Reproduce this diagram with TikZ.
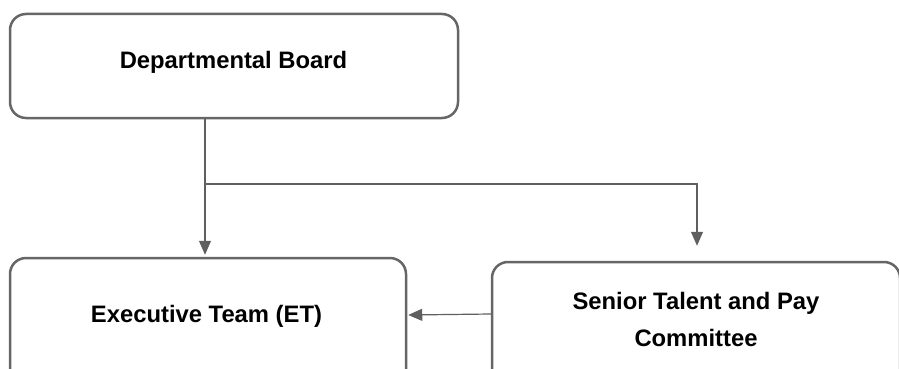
\documentclass[tikz,border=0pt]{standalone}
\usepackage{fontspec}
\setmainfont{Liberation Sans}
\usetikzlibrary{arrows.meta,calc}
\definecolor{boxgray}{HTML}{666666}
\definecolor{linegray}{HTML}{5F5F5F}
\begin{document}
\begin{tikzpicture}[x=1pt,y=-1pt,
  box/.style={draw=boxgray, line width=2.5pt, rounded corners=16pt, inner sep=0pt},
  lbl/.style={font=\bfseries\fontsize{23.8}{37}\selectfont, text=black, align=center, inner sep=0pt, anchor=base},
  conn/.style={draw=linegray, line width=1.2pt},
  arr/.style={conn, -{Triangle[length=14pt,width=12pt]}}]
\useasboundingbox (0,0) rectangle (899,369);
\clip (0,0) rectangle (899,369);
\node[box, minimum width=448pt, minimum height=104pt] (board) at (234,66) {};
\node[lbl] (boardt) at (233.5,69) {Departmental Board};
\node[box, minimum width=396pt, minimum height=140pt] (et) at (208,328) {};
\node[lbl] (ett) at (206.5,322) {Executive Team (ET)};
\node[box, minimum width=408pt, minimum height=140pt] (stpc) at (696,332) {};
\node[lbl] (stpct) at (696,346) {Senior Talent and Pay\\Committee};
\coordinate (j) at (205,184);
\draw[conn, line width=2pt] (board.south -| j) -- (j);
\draw[arr] (j) -- ($(et.north -| j)+(0,-2)$);
\draw[arr] (j) -| ($(stpc.north)+(1,-15)$);
\draw[arr] ($(stpc.west)+(0,-18)$) -- ($(et.east)+(1,-13)$);
\end{tikzpicture}
\end{document}
